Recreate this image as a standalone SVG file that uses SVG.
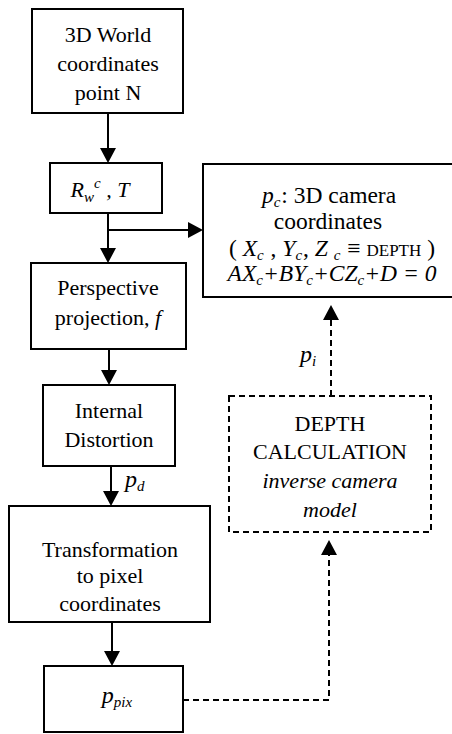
<svg xmlns="http://www.w3.org/2000/svg" width="452" height="734" viewBox="0 0 452 734">
<style>
  .box { fill: #ffffff; stroke: #000000; stroke-width: 2; }
  .dbox { fill: none; stroke: #000000; stroke-width: 2; stroke-dasharray: 6 4; }
  text { font-family: 'Liberation Serif', 'DejaVu Serif', serif; fill: #000000; }
  .t { font-size: 22px; text-anchor: middle; }
  .tc { font-size: 23.5px; text-anchor: middle; }
  .i { font-style: italic; }
  .sub { font-size: 15px; }
  .conn { fill: none; stroke: #000000; stroke-width: 2; }
  .dash { stroke-dasharray: 6 4; }
</style>
<defs>
  <marker id="arr" markerUnits="userSpaceOnUse" markerWidth="16" markerHeight="16" refX="5" refY="8" orient="auto">
    <path d="M0,0 L15,8 L0,16 z" fill="#000000" stroke="none"/>
  </marker>
</defs>

<g id="connectors">
  <line class="conn" x1="108" y1="113" x2="108" y2="153" marker-end="url(#arr)"/>
  <line class="conn" x1="108" y1="213" x2="108" y2="253" marker-end="url(#arr)"/>
  <line class="conn" x1="108" y1="230" x2="193" y2="230" marker-end="url(#arr)"/>
  <line class="conn" x1="109" y1="349" x2="109" y2="375" marker-end="url(#arr)"/>
  <line class="conn" x1="111" y1="466" x2="111" y2="496" marker-end="url(#arr)"/>
  <line class="conn" x1="112" y1="622" x2="112" y2="656" marker-end="url(#arr)"/>
  <polyline class="conn dash" points="183,700 329,700 329,550" marker-end="url(#arr)"/>
  <line class="conn dash" x1="331" y1="396" x2="331" y2="315" marker-end="url(#arr)"/>
  <text class="i" x="125" y="487" font-size="24">p<tspan class="sub" dy="4">d</tspan></text>
  <text class="i" x="300" y="362" font-size="24">p<tspan class="sub" dy="4">i</tspan></text>
</g>

<g id="node-world">
  <rect class="box" x="32" y="9" width="151" height="104"/>
  <text class="t" x="108" y="42">3D World</text>
  <text class="t" x="108" y="71">coordinates</text>
  <text class="t" x="108" y="100">point N</text>
</g>

<g id="node-rt">
  <rect class="box" x="50" y="163" width="112" height="50"/>
  <text class="t i" x="100" y="197">R<tspan class="sub" dy="5">w</tspan><tspan class="sub" dy="-14">c</tspan><tspan dy="9"> , T</tspan></text>
</g>

<g id="node-camera">
  <rect class="box" x="203" y="164" width="252" height="133"/>
  <text class="tc" x="329" y="203"><tspan class="i">p</tspan><tspan class="i sub" dy="4">c</tspan><tspan dy="-4" dx="1">: 3D camera</tspan></text>
  <text class="tc" x="328" y="229">coordinates</text>
  <text class="tc" x="332" y="256">( <tspan class="i">X</tspan><tspan class="i sub" dy="4">c</tspan><tspan dy="-4" dx="1"> , </tspan><tspan class="i">Y</tspan><tspan class="i sub" dy="4">c</tspan><tspan dy="-4" dx="1">, </tspan><tspan class="i">Z </tspan><tspan class="i sub" dy="4">c</tspan><tspan dy="-4" dx="1"> ≡ </tspan><tspan font-size="17">DEPTH</tspan> )</text>
  <text class="tc i" x="332" y="281">AX<tspan class="sub" dy="4">c</tspan><tspan dy="-4">+BY</tspan><tspan class="sub" dy="4">c</tspan><tspan dy="-4">+CZ</tspan><tspan class="sub" dy="4">c</tspan><tspan dy="-4">+D = 0</tspan></text>
</g>

<g id="node-perspective">
  <rect class="box" x="31" y="263" width="155" height="86"/>
  <text class="t" x="108" y="295">Perspective</text>
  <text class="t" x="108" y="325">projection, <tspan class="i">f</tspan></text>
</g>

<g id="node-distortion">
  <rect class="box" x="43" y="385" width="132" height="81"/>
  <text class="t" x="109" y="418">Internal</text>
  <text class="t" x="109" y="447">Distortion</text>
</g>

<g id="node-transform">
  <rect class="box" x="9" y="506" width="201" height="116"/>
  <text class="t" x="110" y="557">Transformation</text>
  <text class="t" x="110" y="583">to pixel</text>
  <text class="t" x="110" y="611">coordinates</text>
</g>

<g id="node-ppix">
  <rect class="box" x="44" y="666" width="139" height="66"/>
  <text class="t i" x="117" y="703"><tspan font-size="24">p</tspan><tspan class="sub" dy="4">pix</tspan></text>
</g>

<g id="node-depth">
  <rect class="dbox" x="229" y="396" width="202" height="136"/>
  <text class="t" x="330" y="431">DEPTH</text>
  <text class="t" x="330" y="459">CALCULATION</text>
  <text class="t i" x="330" y="488">inverse camera</text>
  <text class="t i" x="330" y="517">model</text>
</g>
</svg>
